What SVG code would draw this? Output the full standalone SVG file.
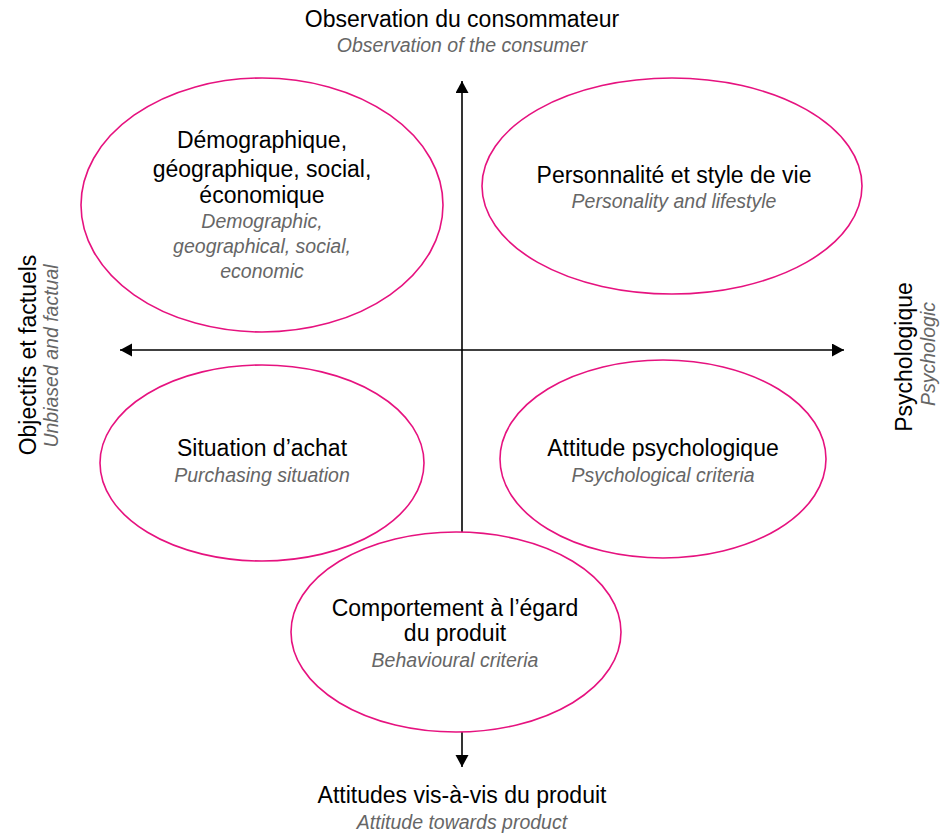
<svg xmlns="http://www.w3.org/2000/svg" width="941" height="834" viewBox="0 0 941 834">
<style>
.bg{fill:#ffffff}
.ell{fill:none;stroke:#e6127f;stroke-width:1.6}
.ax{stroke:#000;stroke-width:1.6;fill:none}
.t{font-family:"Liberation Sans",Arial,sans-serif;font-size:23px;fill:#000;text-anchor:middle}
.s{font-family:"Liberation Sans",Arial,sans-serif;font-size:19.5px;font-style:italic;fill:#666666;text-anchor:middle}
</style>
<defs>
<marker id="arr" markerUnits="userSpaceOnUse" markerWidth="13" markerHeight="14" refX="12" refY="6.5" orient="auto-start-reverse">
<path d="M0,0 L12,6.5 L0,13 Z" fill="#000"/>
</marker>
</defs>
<rect class="bg" x="0" y="0" width="941" height="834"/>
<g id="connectors">
<line class="ax" x1="462" y1="532" x2="462" y2="81" marker-end="url(#arr)"/>
<line class="ax" x1="462" y1="732" x2="462" y2="767" marker-end="url(#arr)"/>
<line class="ax" x1="120" y1="350" x2="844" y2="350" marker-start="url(#arr)" marker-end="url(#arr)"/>
</g>
<g id="axis-top">
<text class="t" x="462" y="27">Observation du consommateur</text>
<text class="s" x="462" y="52">Observation of the consumer</text>
</g>
<g id="axis-bottom">
<text class="t" x="462" y="803">Attitudes vis-à-vis du produit</text>
<text class="s" x="462" y="829">Attitude towards product</text>
</g>
<g id="axis-left">
<text class="t" transform="translate(36,355) rotate(-90)">Objectifs et factuels</text>
<text class="s" transform="translate(58,356) rotate(-90)">Unbiased and factual</text>
</g>
<g id="axis-right">
<text class="t" transform="translate(912,357) rotate(-90)">Psychologique</text>
<text class="s" transform="translate(935,354) rotate(-90)">Psychologic</text>
</g>
<g id="node-demographique">
<ellipse class="ell" cx="262" cy="205" rx="181" ry="127"/>
<text class="t" x="262" y="148">Démographique,</text>
<text class="t" x="262" y="177">géographique, social,</text>
<text class="t" x="262" y="203">économique</text>
<text class="s" x="262" y="228">Demographic,</text>
<text class="s" x="262" y="253">geographical, social,</text>
<text class="s" x="262" y="278">economic</text>
</g>
<g id="node-personnalite">
<ellipse class="ell" cx="672" cy="186" rx="190" ry="108"/>
<text class="t" x="674" y="183">Personnalité et style de vie</text>
<text class="s" x="674" y="208">Personality and lifestyle</text>
</g>
<g id="node-situation">
<ellipse class="ell" cx="262" cy="463" rx="162" ry="98"/>
<text class="t" x="262" y="456">Situation d’achat</text>
<text class="s" x="262" y="482">Purchasing situation</text>
</g>
<g id="node-attitude">
<ellipse class="ell" cx="663" cy="459" rx="163" ry="99"/>
<text class="t" x="663" y="456">Attitude psychologique</text>
<text class="s" x="663" y="482">Psychological criteria</text>
</g>
<g id="node-comportement">
<ellipse class="ell" cx="456" cy="632" rx="165" ry="100"/>
<text class="t" x="455" y="616">Comportement à l’égard</text>
<text class="t" x="455" y="641">du produit</text>
<text class="s" x="455" y="667">Behavioural criteria</text>
</g>
</svg>
